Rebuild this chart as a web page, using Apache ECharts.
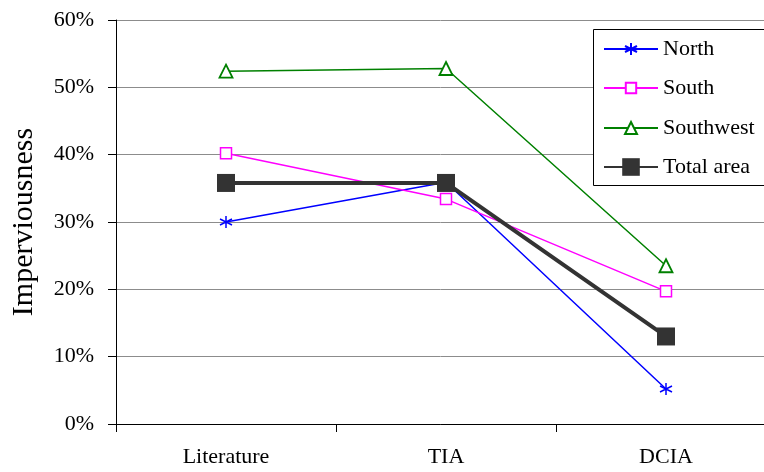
<!DOCTYPE html>
<html>
<head>
<meta charset="utf-8">
<script src="https://cdn.jsdelivr.net/npm/echarts@6/dist/echarts.min.js"></script>
<style>
html,body{margin:0;padding:0;background:#fff;}
#chart{width:764px;height:472px;}
</style>
</head>
<body>
<div id="chart"></div>
<script>
var categories = ['Literature', 'TIA', 'DCIA'];
var north = [30.0, 35.9, 5.2];
var south = [40.2, 33.4, 19.7];
var southwest = [52.4, 52.8, 23.5];
var total = [35.8, 35.8, 13.0];
var seriesNames = ['North', 'South', 'Southwest', 'Total area'];
var yTicks = [0, 10, 20, 30, 40, 50, 60];
var yTitle = 'Imperviousness';

var FONT = 'Liberation Serif';
var asterisk = 'path://M5,0L5,10M0.7,2.5L9.3,7.5M0.7,7.5L9.3,2.5';

var chart = echarts.init(document.getElementById('chart'), null, {renderer: 'canvas'});

function legendFor(name, centerY, itemHeight) {
  return {
    data: [name],
    left: 603,
    top: centerY - 11,
    padding: 0,
    itemWidth: 54,
    itemHeight: itemHeight,
    z: 5,
    selectedMode: false,
    textStyle: {fontFamily: FONT, fontSize: 22, color: '#000', lineHeight: 22}
  };
}

var option = {
  backgroundColor: '#fff',
  animation: false,
  textStyle: {fontFamily: FONT},
  grid: {left: 116, top: 20, height: 404, width: 660, containLabel: false, outerBoundsMode: 'none'},
  graphic: [{
    type: 'rect',
    z: 3,
    zlevel: 0,
    shape: {x: 593.5, y: 29.5, width: 200, height: 156},
    style: {fill: '#fff', stroke: '#000', lineWidth: 1}
  }],
  legend: [
    legendFor('North', 49, 15),
    legendFor('South', 88, 13),
    legendFor('Southwest', 128, 15),
    legendFor('Total area', 167, 22)
  ],
  xAxis: {
    type: 'category',
    data: categories,
    boundaryGap: true,
    axisLine: {lineStyle: {color: '#000', width: 1}},
    axisTick: {show: true, length: 8, lineStyle: {color: '#000'}},
    axisLabel: {fontFamily: FONT, fontSize: 22, color: '#000', margin: 22},
    splitLine: {show: false}
  },
  yAxis: {
    type: 'value',
    min: yTicks[0],
    max: yTicks[yTicks.length - 1],
    interval: yTicks[1] - yTicks[0],
    name: yTitle,
    nameLocation: 'middle',
    nameRotate: 90,
    nameGap: 77,
    nameTextStyle: {fontFamily: FONT, fontSize: 30, color: '#000'},
    axisLine: {show: true, lineStyle: {color: '#000', width: 1}},
    axisTick: {show: true, length: 8, lineStyle: {color: '#000'}},
    axisLabel: {fontFamily: FONT, fontSize: 22, color: '#000', margin: 22, formatter: '{value}%'},
    splitLine: {show: true, lineStyle: {color: '#8c8c8c', width: 1}}
  },
  series: [
    {
      name: seriesNames[0], type: 'line', data: north,
      symbol: asterisk, symbolSize: 12,
      lineStyle: {color: '#0000ff', width: 1.5},
      itemStyle: {color: '#0000ff', borderColor: '#0000ff', borderWidth: 1.5},
      z: 2
    },
    {
      name: seriesNames[1], type: 'line', data: south,
      symbol: 'rect', symbolSize: 11,
      lineStyle: {color: '#ff00ff', width: 1.5},
      itemStyle: {color: '#ffffff', borderColor: '#ff00ff', borderWidth: 1.5},
      z: 2
    },
    {
      name: seriesNames[2], type: 'line', data: southwest,
      symbol: 'triangle', symbolSize: 13,
      lineStyle: {color: '#008000', width: 1.5},
      itemStyle: {color: '#ffffff', borderColor: '#008000', borderWidth: 1.8},
      z: 2
    },
    {
      name: seriesNames[3], type: 'line', data: total,
      symbol: 'rect', symbolSize: 18,
      lineStyle: {color: '#333333', width: 4},
      itemStyle: {color: '#333333'},
      z: 2
    }
  ]
};
chart.setOption(option);
</script>
</body>
</html>
